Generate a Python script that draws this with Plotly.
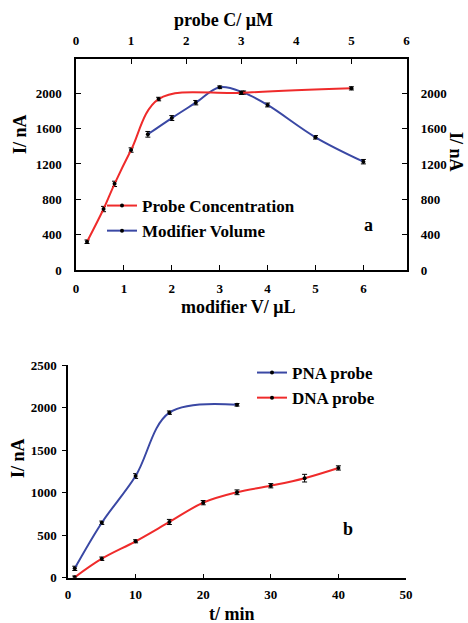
import plotly.graph_objects as go

W, H = 468, 623

# Panel a - current vs probe concentration (top x axis, µM)
probe_c = [0.2, 0.5, 0.7, 1.0, 1.5, 3.0, 5.0]
probe_i = [320, 690, 975, 1358, 1935, 2005, 2056]
probe_err = [20, 30, 30, 25, 20, 18, 18]

# Panel a - current vs modifier volume (bottom x axis, µL)
mod_v = [1.5, 2.0, 2.5, 3.0, 3.5, 4.0, 5.0, 6.0]
mod_i = [1536, 1720, 1894, 2068, 2008, 1868, 1502, 1226]
mod_err = [32, 28, 25, 15, 18, 22, 20, 25]

# Panel b - current vs hybridization time
t_pna = [1, 5, 10, 15, 25]
i_pna = [110, 646, 1195, 1940, 2032]
err_pna = [25, 20, 28, 20, 15]
t_dna = [1, 5, 10, 15, 20, 25, 30, 35, 40]
i_dna = [5, 223, 428, 655, 882, 1004, 1081, 1170, 1290]
err_dna = [15, 20, 18, 30, 25, 28, 25, 45, 25]

# Tick labels
ticks_a_y = [0, 400, 800, 1200, 1600, 2000]
ticks_a_xb = [0, 1, 2, 3, 4, 5, 6]
ticks_a_xt = [0, 1, 2, 3, 4, 5, 6]
ticks_b_y = [0, 500, 1000, 1500, 2000, 2500]
ticks_b_x = [0, 10, 20, 30, 40, 50]

RED = "#ef2b2b"
BLUE = "#3a48a4"
FONT = "Liberation Serif"


def px(x):
    return x / W


def py(y):
    return 1 - y / H


def series(x, y, err, color, name, xa, ya, legend):
    return go.Scatter(
        x=x, y=y, name=name, mode="lines+markers",
        line=dict(color=color, width=2, shape="spline", smoothing=1),
        marker=dict(color="black", size=4),
        error_y=dict(type="data", array=err, visible=True,
                     color="black", thickness=1, width=2.5),
        xaxis=xa, yaxis=ya, legend=legend,
    )


fig = go.Figure()
fig.add_trace(series(probe_c, probe_i, probe_err, RED, "Probe Concentration", "x2", "y", "legend"))
fig.add_trace(series(mod_v, mod_i, mod_err, BLUE, "Modifier Volume", "x", "y", "legend"))
fig.add_trace(series(t_pna, i_pna, err_pna, BLUE, "PNA probe", "x3", "y3", "legend2"))
fig.add_trace(series(t_dna, i_dna, err_dna, RED, "DNA probe", "x3", "y3", "legend2"))

# Keep the right-hand axis visible even though no trace is bound to it
fig.add_trace(go.Scatter(x=[None], y=[None], xaxis="x", yaxis="y2",
                         showlegend=False, hoverinfo="skip"))

tickfont = dict(family=FONT, size=13, color="black", weight="bold")
axis_common = dict(showgrid=False, zeroline=False, showline=True,
                   linecolor="black", linewidth=1.5, tickcolor="black",
                   tickwidth=1.2, tickfont=tickfont, automargin=False)

dom_a_x = [px(76), px(406.5)]
dom_a_y = [py(270), py(59.3)]
dom_b_x = [px(68), px(406)]
dom_b_y = [py(577.7), py(365)]

legend_font = dict(family=FONT, size=17, color="black", weight="bold")

fig.update_layout(
    width=W, height=H, autosize=False,
    margin=dict(l=0, r=0, t=0, b=0, pad=0, autoexpand=False),
    paper_bgcolor="white", plot_bgcolor="white",
    showlegend=True,
    xaxis=dict(domain=dom_a_x, anchor="y", range=[0, 6.9],
               tickvals=ticks_a_xb, ticks="inside", ticklen=5,
               ticklabelstandoff=6, **axis_common),
    xaxis2=dict(domain=dom_a_x, anchor="y", overlaying="x", side="top",
                range=[0, 6], tickvals=ticks_a_xt, ticks="inside",
                ticklen=5, ticklabelstandoff=7, **axis_common),
    yaxis=dict(domain=dom_a_y, anchor="x", range=[0, 2385],
               tickvals=ticks_a_y, ticks="inside", ticklen=5,
               ticklabelstandoff=10, **axis_common),
    yaxis2=dict(domain=dom_a_y, anchor="x", overlaying="y", side="right",
                range=[0, 2385], tickvals=ticks_a_y, ticks="inside",
                ticklen=5, ticklabelstandoff=10, **axis_common),
    xaxis3=dict(domain=dom_b_x, anchor="y3", range=[0, 50],
                tickvals=ticks_b_x, ticks="inside", ticklen=4,
                ticklabelstandoff=4, **axis_common),
    yaxis3=dict(domain=dom_b_y, anchor="x3", range=[0, 2500],
                tickvals=ticks_b_y, ticks="outside", ticklen=4,
                ticklabelstandoff=3, **axis_common),
    legend=dict(x=px(102), y=py(188), xanchor="left", yanchor="top",
                bgcolor="rgba(0,0,0,0)", itemwidth=30, tracegroupgap=0,
                font=legend_font),
    legend2=dict(x=px(252), y=py(355), xanchor="left", yanchor="top",
                 bgcolor="rgba(0,0,0,0)", itemwidth=30, tracegroupgap=0,
                 font=legend_font),
)

title_font = dict(family=FONT, size=18, color="black", weight="bold")
labels = [
    ("probe C/ \u03bcM", 223, 20, 0),
    ("modifier V/ \u03bcL", 238, 307, 0),
    ("I/ nA", 20, 134, -90),
    ("I/ nA", 456, 152, 90),
    ("a", 368, 225, 0),
    ("I/ nA", 18, 458, -90),
    ("t/ min", 232, 614, 0),
    ("b", 348, 529, 0),
]
for text, x, y, ang in labels:
    fig.add_annotation(text=text, x=px(x), y=py(y), xref="paper", yref="paper",
                       showarrow=False, textangle=ang, font=title_font,
                       xanchor="center", yanchor="middle")

fig.write_html("out.html")
